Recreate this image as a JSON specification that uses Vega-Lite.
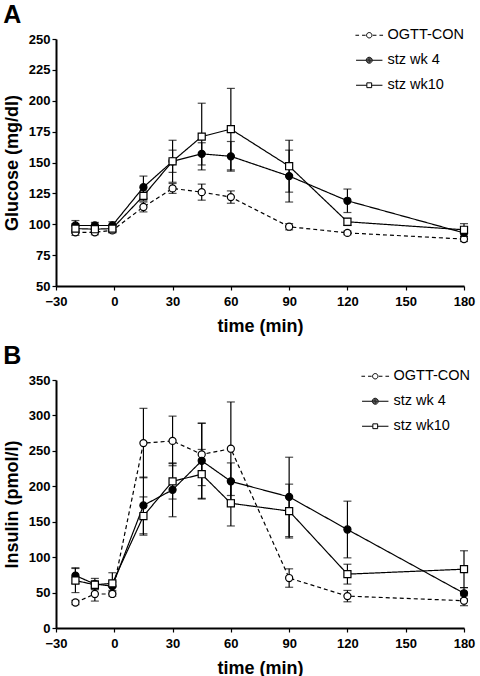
{
  "$schema": "https://vega.github.io/schema/vega-lite/v6.json",
  "background": "white",
  "padding": {"left": 3, "top": 3, "right": 5, "bottom": 3},
  "config": {
    "view": {"stroke": null},
    "font": "Liberation Sans",
    "axis": {
      "labelFont": "Liberation Sans", "labelFontSize": 13, "labelFontWeight": "bold", "labelColor": "black",
      "titleFont": "Liberation Sans", "titleFontSize": 18, "titleFontWeight": "bold", "titleColor": "black",
      "domainColor": "black", "domainWidth": 2, "tickColor": "black", "tickWidth": 1.2, "tickSize": 4,
      "grid": false, "labelPadding": 2, "labelFlush": false, "labelOverlap": false
    },
    "legend": {
      "title": null, "orient": "none", "padding": 0,
      "symbolSize": 36, "symbolStrokeColor": "black", "symbolStrokeWidth": 1, "symbolFillColor": "transparent",
      "labelFont": "Liberation Sans", "labelFontSize": 14.5, "labelColor": "black", "labelOffset": 11, "rowPadding": 10
    },
    "title": {"font": "Liberation Sans", "fontSize": 25, "fontWeight": "bold", "anchor": "start", "frame": "bounds", "color": "black"}
  },
  "datasets": {
    "glucose": [
      {"t": -20, "series": "OGTT-CON", "v": 93.5, "se": 2.5},
      {"t": -10, "series": "OGTT-CON", "v": 93.5, "se": 2},
      {"t": -1, "series": "OGTT-CON", "v": 95, "se": 2},
      {"t": 15, "series": "OGTT-CON", "v": 114, "se": 4},
      {"t": 30, "series": "OGTT-CON", "v": 129, "se": 4},
      {"t": 45, "series": "OGTT-CON", "v": 126, "se": 6.5},
      {"t": 60, "series": "OGTT-CON", "v": 122, "se": 5},
      {"t": 90, "series": "OGTT-CON", "v": 98, "se": 2.5},
      {"t": 120, "series": "OGTT-CON", "v": 93, "se": 1.5},
      {"t": 180, "series": "OGTT-CON", "v": 88, "se": 2},
      {"t": -20, "series": "stz wk 4", "v": 99, "se": 4},
      {"t": -10, "series": "stz wk 4", "v": 99, "se": 2.5},
      {"t": -1, "series": "stz wk 4", "v": 99, "se": 3},
      {"t": 15, "series": "stz wk 4", "v": 130, "se": 9},
      {"t": 30, "series": "stz wk 4", "v": 151, "se": 9},
      {"t": 45, "series": "stz wk 4", "v": 157, "se": 9},
      {"t": 60, "series": "stz wk 4", "v": 155, "se": 12},
      {"t": 90, "series": "stz wk 4", "v": 139, "se": 21},
      {"t": 120, "series": "stz wk 4", "v": 119, "se": 9.5},
      {"t": 180, "series": "stz wk 4", "v": 93, "se": 3},
      {"t": -20, "series": "stz wk10", "v": 96.5, "se": 4},
      {"t": -10, "series": "stz wk10", "v": 96, "se": 2},
      {"t": -1, "series": "stz wk10", "v": 96.5, "se": 2.5},
      {"t": 15, "series": "stz wk10", "v": 123, "se": 4},
      {"t": 30, "series": "stz wk10", "v": 151, "se": 17},
      {"t": 45, "series": "stz wk10", "v": 171, "se": 27},
      {"t": 60, "series": "stz wk10", "v": 177, "se": 33},
      {"t": 90, "series": "stz wk10", "v": 147, "se": 21},
      {"t": 120, "series": "stz wk10", "v": 102, "se": 3},
      {"t": 180, "series": "stz wk10", "v": 95.5, "se": 5}
    ],
    "insulin": [
      {"t": -20, "series": "OGTT-CON", "v": 36, "se": 3},
      {"t": -10, "series": "OGTT-CON", "v": 48, "se": 10},
      {"t": -1, "series": "OGTT-CON", "v": 48, "se": 3},
      {"t": 15, "series": "OGTT-CON", "v": 261, "se": 49},
      {"t": 30, "series": "OGTT-CON", "v": 264, "se": 35},
      {"t": 45, "series": "OGTT-CON", "v": 245, "se": 44},
      {"t": 60, "series": "OGTT-CON", "v": 253, "se": 66},
      {"t": 90, "series": "OGTT-CON", "v": 70.5, "se": 13},
      {"t": 120, "series": "OGTT-CON", "v": 45, "se": 8},
      {"t": 180, "series": "OGTT-CON", "v": 38.5, "se": 7},
      {"t": -20, "series": "stz wk 4", "v": 74, "se": 11},
      {"t": -10, "series": "stz wk 4", "v": 62, "se": 8},
      {"t": -1, "series": "stz wk 4", "v": 59, "se": 6},
      {"t": 15, "series": "stz wk 4", "v": 173, "se": 40},
      {"t": 30, "series": "stz wk 4", "v": 195, "se": 38},
      {"t": 45, "series": "stz wk 4", "v": 236, "se": 53},
      {"t": 60, "series": "stz wk 4", "v": 207, "se": 26},
      {"t": 90, "series": "stz wk 4", "v": 185, "se": 56},
      {"t": 120, "series": "stz wk 4", "v": 139, "se": 40},
      {"t": 180, "series": "stz wk 4", "v": 49, "se": 8},
      {"t": -20, "series": "stz wk10", "v": 67, "se": 17},
      {"t": -10, "series": "stz wk10", "v": 61, "se": 6},
      {"t": -1, "series": "stz wk10", "v": 63, "se": 15},
      {"t": 15, "series": "stz wk10", "v": 158, "se": 27},
      {"t": 30, "series": "stz wk10", "v": 207, "se": 25},
      {"t": 45, "series": "stz wk10", "v": 217, "se": 35},
      {"t": 60, "series": "stz wk10", "v": 176, "se": 32},
      {"t": 90, "series": "stz wk10", "v": 165, "se": 38},
      {"t": 120, "series": "stz wk10", "v": 76, "se": 14},
      {"t": 180, "series": "stz wk10", "v": 83, "se": 26}
    ]
  },
  "spacing": 9,
  "resolve": {
    "scale": {"shape": "independent"},
    "legend": {"shape": "independent"}
  },
  "vconcat": [
    {
      "title": {"text": "A", "offset": 0},
      "width": 408,
      "height": 247,
      "data": {"name": "glucose"},
      "encoding": {
        "x": {"field": "t", "type": "quantitative", "title": "time (min)",
          "scale": {"domain": [-30, 180], "nice": false, "zero": false},
          "axis": {"values": [-30, 0, 30, 60, 90, 120, 150, 180], "titlePadding": 9, "labelPadding": 5}},
        "y": {"field": "v", "type": "quantitative", "title": "Glucose (mg/dl)",
          "scale": {"domain": [50, 250], "nice": false, "zero": false},
          "axis": {"values": [50, 75, 100, 125, 150, 175, 200, 225, 250], "titlePadding": 7}}
      },
      "layer": [
        {
          "mark": {"type": "errorbar", "color": "black", "ticks": {"size": 8, "thickness": 1.2, "color": "black"}, "rule": {"strokeWidth": 1.2, "color": "black"}},
          "encoding": {"yError": {"field": "se"}, "detail": {"field": "series"}}
        },
        {
          "mark": {"type": "line", "color": "black", "strokeWidth": 1.2},
          "encoding": {
            "detail": {"field": "series"},
            "strokeDash": {"condition": {"test": "datum.series === 'OGTT-CON'", "value": [4, 3]}, "value": [1, 0]}
          }
        },
        {
          "mark": {"type": "point", "filled": true, "size": 50, "stroke": "black", "strokeWidth": 1.2, "opacity": 1},
          "encoding": {
            "shape": {"condition": {"test": "datum.series === 'stz wk10'", "value": "square"}, "value": "circle"},
            "fill": {"condition": {"test": "datum.series === 'stz wk 4'", "value": "black"}, "value": "white"}
          }
        },
        {
          "transform": [{"filter": "datum.t > 999"}],
          "mark": {"type": "point", "filled": false, "stroke": "black", "strokeWidth": 1, "opacity": 1},
          "encoding": {
            "shape": {"field": "series", "type": "nominal",
              "scale": {"domain": ["OGTT-CON", "stz wk 4", "stz wk10"],
                "range": [
                  "M-4.6,0H-3.4M-2.4,0H-1.2M1.2,0H2.4M3.4,0H4.6M0.9,0C0.9,0.5,0.5,0.9,0,0.9C-0.5,0.9,-0.9,0.5,-0.9,0C-0.9,-0.5,-0.5,-0.9,0,-0.9C0.5,-0.9,0.9,-0.5,0.9,0Z",
                  "M-4.4,0H-1M1,0H4.4M1,0C1,0.552,0.552,1,0,1C-0.552,1,-1,0.552,-1,0C-1,-0.552,-0.552,-1,0,-1C0.552,-1,1,-0.552,1,0ZM0.7,0C0.7,0.387,0.387,0.7,0,0.7C-0.387,0.7,-0.7,0.387,-0.7,0C-0.7,-0.387,-0.387,-0.7,0,-0.7C0.387,-0.7,0.7,-0.387,0.7,0ZM0.4,0C0.4,0.221,0.221,0.4,0,0.4C-0.221,0.4,-0.4,0.221,-0.4,0C-0.4,-0.221,-0.221,-0.4,0,-0.4C0.221,-0.4,0.4,-0.221,0.4,0ZM0.15,0C0.15,0.083,0.083,0.15,0,0.15C-0.083,0.15,-0.15,0.083,-0.15,0C-0.15,-0.083,-0.083,-0.15,0,-0.15C0.083,-0.15,0.15,-0.083,0.15,0Z",
                  "M-4.4,0H-0.8M0.8,0H4.4M-0.8,-0.8H0.8V0.8H-0.8Z"
                ]},
              "legend": {"legendX": 306, "legendY": -11,
                "encode": {"symbols": {"stroke": {"value": "black"}, "strokeWidth": {"value": 1}, "fill": {"value": "transparent"}}}}}
          }
        }
      ]
    },
    {
      "title": {"text": "B", "offset": 0},
      "width": 408,
      "height": 248,
      "data": {"name": "insulin"},
      "encoding": {
        "x": {"field": "t", "type": "quantitative", "title": "time (min)",
          "scale": {"domain": [-30, 180], "nice": false, "zero": false},
          "axis": {"values": [-30, 0, 30, 60, 90, 120, 150, 180], "titlePadding": 9, "labelPadding": 5}},
        "y": {"field": "v", "type": "quantitative", "title": "Insulin (pmol/l)",
          "scale": {"domain": [0, 350], "nice": false, "zero": false},
          "axis": {"values": [0, 50, 100, 150, 200, 250, 300, 350], "titlePadding": 7}}
      },
      "layer": [
        {
          "mark": {"type": "errorbar", "color": "black", "ticks": {"size": 8, "thickness": 1.2, "color": "black"}, "rule": {"strokeWidth": 1.2, "color": "black"}},
          "encoding": {"yError": {"field": "se"}, "detail": {"field": "series"}}
        },
        {
          "mark": {"type": "line", "color": "black", "strokeWidth": 1.2},
          "encoding": {
            "detail": {"field": "series"},
            "strokeDash": {"condition": {"test": "datum.series === 'OGTT-CON'", "value": [4, 3]}, "value": [1, 0]}
          }
        },
        {
          "mark": {"type": "point", "filled": true, "size": 50, "stroke": "black", "strokeWidth": 1.2, "opacity": 1},
          "encoding": {
            "shape": {"condition": {"test": "datum.series === 'stz wk10'", "value": "square"}, "value": "circle"},
            "fill": {"condition": {"test": "datum.series === 'stz wk 4'", "value": "black"}, "value": "white"}
          }
        },
        {
          "transform": [{"filter": "datum.t > 999"}],
          "mark": {"type": "point", "filled": false, "stroke": "black", "strokeWidth": 1, "opacity": 1},
          "encoding": {
            "shape": {"field": "series", "type": "nominal",
              "scale": {"domain": ["OGTT-CON", "stz wk 4", "stz wk10"],
                "range": [
                  "M-4.6,0H-3.4M-2.4,0H-1.2M1.2,0H2.4M3.4,0H4.6M0.9,0C0.9,0.5,0.5,0.9,0,0.9C-0.5,0.9,-0.9,0.5,-0.9,0C-0.9,-0.5,-0.5,-0.9,0,-0.9C0.5,-0.9,0.9,-0.5,0.9,0Z",
                  "M-4.4,0H-1M1,0H4.4M1,0C1,0.552,0.552,1,0,1C-0.552,1,-1,0.552,-1,0C-1,-0.552,-0.552,-1,0,-1C0.552,-1,1,-0.552,1,0ZM0.7,0C0.7,0.387,0.387,0.7,0,0.7C-0.387,0.7,-0.7,0.387,-0.7,0C-0.7,-0.387,-0.387,-0.7,0,-0.7C0.387,-0.7,0.7,-0.387,0.7,0ZM0.4,0C0.4,0.221,0.221,0.4,0,0.4C-0.221,0.4,-0.4,0.221,-0.4,0C-0.4,-0.221,-0.221,-0.4,0,-0.4C0.221,-0.4,0.4,-0.221,0.4,0ZM0.15,0C0.15,0.083,0.083,0.15,0,0.15C-0.083,0.15,-0.15,0.083,-0.15,0C-0.15,-0.083,-0.083,-0.15,0,-0.15C0.083,-0.15,0.15,-0.083,0.15,0Z",
                  "M-4.4,0H-0.8M0.8,0H4.4M-0.8,-0.8H0.8V0.8H-0.8Z"
                ]},
              "legend": {"legendX": 312, "legendY": -11,
                "encode": {"symbols": {"stroke": {"value": "black"}, "strokeWidth": {"value": 1}, "fill": {"value": "transparent"}}}}}
          }
        }
      ]
    }
  ]
}
